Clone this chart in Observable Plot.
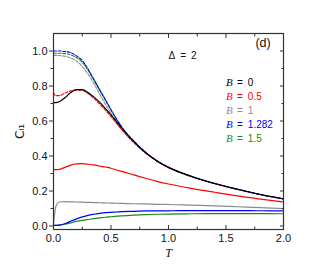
<!DOCTYPE html>
<html><head><meta charset="utf-8">
<script src="https://cdn.jsdelivr.net/npm/d3@7"></script>
<script src="https://cdn.jsdelivr.net/npm/@observablehq/plot@0.6"></script>
<style>body{margin:0;background:#fff}</style>
</head><body><div id="chart"></div>
<script>
// Temperature grid
const T = [0, 0.02, 0.05, 0.1, 0.15, 0.2, 0.25, 0.3, 0.35, 0.4, 0.45, 0.5, 0.55, 0.6, 0.7, 0.8, 0.9, 1.0, 1.2, 1.4, 1.6, 1.8, 2.0];

// Solid curves
const solid_B0    = [0.705,0.705,0.71,0.733,0.763,0.779,0.779,0.763,0.738,0.708,0.672,0.635,0.595,0.555,0.482,0.42,0.372,0.335,0.283,0.243,0.21,0.18,0.155];
const solid_B05   = [0.322,0.322,0.324,0.335,0.348,0.355,0.356,0.353,0.349,0.343,0.337,0.33,0.32,0.311,0.292,0.273,0.255,0.24,0.215,0.193,0.172,0.154,0.137];
const solid_B1    = [0.01,0.11,0.137,0.139,0.138,0.137,0.136,0.135,0.134,0.133,0.132,0.131,0.13,0.129,0.127,0.126,0.124,0.123,0.119,0.115,0.11,0.105,0.099];
const solid_B1282 = [0.004,0.004,0.005,0.014,0.028,0.041,0.052,0.061,0.067,0.072,0.076,0.078,0.08,0.082,0.084,0.086,0.087,0.087,0.088,0.088,0.088,0.087,0.087];
const solid_B15   = [0.004,0.004,0.005,0.01,0.018,0.026,0.032,0.037,0.042,0.046,0.05,0.053,0.056,0.058,0.062,0.065,0.067,0.068,0.07,0.071,0.071,0.071,0.07];

// Dashed curves
const dashed_B05   = [0.762,0.745,0.745,0.76,0.772,0.778,0.775,0.757,0.73,0.698,0.663,0.625,0.585,0.545,0.475,0.417,0.37,0.333,0.282,0.242,0.209,0.179,0.154];
const dashed_B1    = [0.975,0.975,0.974,0.97,0.96,0.943,0.912,0.868,0.815,0.755,0.698,0.643,0.592,0.548,0.478,0.418,0.371,0.334,0.283,0.243,0.21,0.18,0.155];
const dashed_B1282 = [1.0,1.0,1.0,0.997,0.99,0.972,0.945,0.897,0.84,0.782,0.724,0.665,0.61,0.56,0.484,0.422,0.373,0.336,0.284,0.243,0.21,0.18,0.155];
const dashed_B15   = [0.987,0.987,0.987,0.985,0.978,0.962,0.935,0.89,0.834,0.776,0.719,0.662,0.607,0.557,0.482,0.42,0.372,0.335,0.283,0.243,0.21,0.18,0.155];

// Legend
const legendLabels = ["0", "0.5", "1", "1.282", "1.5"];
const legendColors = ["#000000", "#ff0000", "#8c8c8c", "#0000ff", "#1a8a1a"];

// Ticks
const xMajor = [0, 0.5, 1, 1.5, 2];
const xMinor = [0.25, 0.75, 1.25, 1.75];
const yMajor = [0, 0.2, 0.4, 0.6, 0.8, 1.0];
const yMinor = [0.1, 0.3, 0.5, 0.7, 0.9];

const toRows = vals => T.map((t, i) => ({T: t, C: vals[i]}));

const dashedSeries = [
  [dashed_B1, legendColors[2]],
  [dashed_B05, legendColors[1]],
  [dashed_B15, legendColors[4]],
  [dashed_B1282, legendColors[3]]
];
const solidSeries = [
  [solid_B15, legendColors[4]],
  [solid_B1282, legendColors[3]],
  [solid_B1, legendColors[2]],
  [solid_B05, legendColors[1]],
  [solid_B0, legendColors[0]]
];

const fmt = d3.format(".1f");
const blank = () => "";
const axisCol = "#333";

const marks = [];
for (const [vals, col] of dashedSeries) {
  marks.push(Plot.line(toRows(vals), {x: "T", y: "C", stroke: col, strokeWidth: 1.1, strokeDasharray: "3,1.6", curve: "monotone-x"}));
}
for (const [vals, col] of solidSeries) {
  marks.push(Plot.line(toRows(vals), {x: "T", y: "C", stroke: col, strokeWidth: 1.2, curve: "monotone-x"}));
}

// axes
marks.push(
  Plot.axisY(yMajor, {anchor: "left", tickSize: 4, tickPadding: 2, tickFormat: fmt, label: null, stroke: axisCol, fill: "#111", fontSize: 11}),
  Plot.axisY(yMinor, {anchor: "left", tickSize: 2.5, tickFormat: blank, label: null, stroke: axisCol}),
  Plot.axisY(yMajor, {anchor: "right", tickSize: -4, tickFormat: blank, label: null, stroke: axisCol}),
  Plot.axisY(yMinor, {anchor: "right", tickSize: -2.5, tickFormat: blank, label: null, stroke: axisCol}),
  Plot.axisX(xMajor, {anchor: "bottom", tickSize: -4, tickFormat: blank, label: null, stroke: axisCol}),
  Plot.axisX(xMinor, {anchor: "bottom", tickSize: -2.5, tickFormat: blank, label: null, stroke: axisCol}),
  Plot.axisX(xMajor, {anchor: "bottom", tickSize: 0, tickPadding: 5, tickFormat: fmt, label: null, fill: "#111", fontSize: 11}),
  Plot.axisX(xMajor, {anchor: "top", tickSize: -4, tickFormat: blank, label: null, stroke: axisCol}),
  Plot.axisX(xMinor, {anchor: "top", tickSize: -2.5, tickFormat: blank, label: null, stroke: axisCol}),
  Plot.frame({stroke: axisCol, strokeWidth: 1.2})
);

// axis titles
marks.push(
  Plot.text(["C\u2097\u2081"], {frameAnchor: "left", dx: -33, rotate: -90, textAnchor: "middle", lineAnchor: "middle", fontSize: 12, fill: "#111", fontFamily: "DejaVu Sans, sans-serif"}),
  Plot.text(["T"], {x: [1], frameAnchor: "bottom", dy: 24, lineAnchor: "middle", textAnchor: "middle", fontSize: 12, fontStyle: "italic", fontFamily: "Liberation Serif, serif", fill: "#111"})
);

// annotations
marks.push(
  Plot.text(["(d)"], {x: [1.822], y: [1.046], fontSize: 12.5, fill: "#111"}),
  Plot.text(["\u0394\u2002=\u20022"], {x: [1.0], y: [0.974], textAnchor: "start", fontSize: 10, fill: "#111"})
);

// legend entries
const legY = legendLabels.map((_, i) => 0.82 - i * 0.08);
marks.push(
  Plot.text(legendLabels, {x: legendLabels.map(() => 1.5), y: legY, text: () => "B", textAnchor: "start", fontStyle: "italic", fontFamily: "Liberation Serif, serif", fontSize: 11, fill: (d, i) => legendColors[i]}),
  Plot.text(legendLabels, {x: legendLabels.map(() => 1.5), y: legY, text: d => "=\u2002" + d, dx: 11, textAnchor: "start", fontSize: 10, fill: (d, i) => legendColors[i]})
);

const chart = Plot.plot({
  width: 315,
  height: 270,
  marginLeft: 53,
  marginRight: 32,
  marginTop: 33,
  marginBottom: 41,
  x: {domain: [0, 2]},
  y: {domain: [-0.02, 1.1]},
  color: {type: "identity"},
  style: {fontFamily: "Liberation Sans, Arial, sans-serif", fontSize: "11px", background: "#fff", color: "#111"},
  marks
});
document.getElementById("chart").appendChild(chart);
</script>
</body></html>
